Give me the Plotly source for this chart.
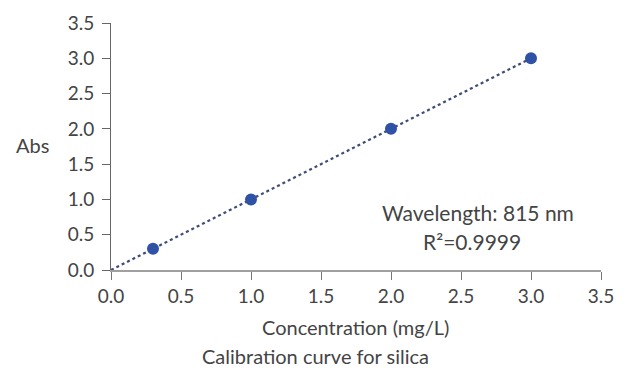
import plotly.graph_objects as go

# Calibration standards for silica
concentration = [0.3, 1.0, 2.0, 3.0]
absorbance = [0.3, 1.0, 2.0, 3.0]

# Fitted line through the origin
fit_x = [0.0, 3.0]
fit_y = [0.0, 3.0]

tick_vals = [0.0, 0.5, 1.0, 1.5, 2.0, 2.5, 3.0, 3.5]
tick_text = ["0.0", "0.5", "1.0", "1.5", "2.0", "2.5", "3.0", "3.5"]

FONT = "Lato"
TEXT = "#444444"
L, R, T, B = 111, 25, 23, 102
W, H = 626, 372

fig = go.Figure()
fig.add_trace(go.Scatter(
    x=fit_x, y=fit_y, mode="lines",
    line=dict(color="#3d4c78", width=2.2, dash="dot"),
    hoverinfo="skip", showlegend=False,
))
fig.add_trace(go.Scatter(
    x=concentration, y=absorbance, mode="markers",
    marker=dict(color="#2f52a6", size=12),
    showlegend=False,
))


def px_ann(text, px, py, size=20):
    """Place a label by page pixel position (centre)."""
    return dict(
        text=text, showarrow=False, xref="paper", yref="paper",
        x=(px - L) / (W - L - R), y=(H - B - py) / (H - T - B),
        xanchor="center", yanchor="middle",
        font=dict(family=FONT, size=size, color=TEXT),
    )


fig.update_layout(
    width=W, height=H,
    margin=dict(l=L, r=R, t=T, b=B),
    paper_bgcolor="white", plot_bgcolor="white",
    font=dict(family=FONT, size=19, color=TEXT),
    xaxis=dict(
        range=[0, 3.5], tickvals=tick_vals, ticktext=tick_text,
        showgrid=False, zeroline=False,
        showline=True, linecolor="#a0a0a0", linewidth=2,
        ticks="outside", ticklen=8, tickcolor="#777777", tickwidth=1,
        tickfont=dict(family=FONT, size=19, color=TEXT),
    ),
    yaxis=dict(
        range=[0, 3.5], tickvals=tick_vals, ticktext=tick_text,
        showgrid=False, zeroline=False,
        showline=True, linecolor="#666666", linewidth=1,
        ticks="outside", ticklen=8, tickcolor="#666666", tickwidth=1,
        ticklabelstandoff=4,
        tickfont=dict(family=FONT, size=19, color=TEXT),
    ),
    annotations=[
        px_ann("Wavelength: 815 nm", 478, 212, 21),
        px_ann("R²=0.9999", 472, 241, 21),
        px_ann("Abs", 32, 145),
        px_ann("Concentration (mg/L)", 355, 327),
        px_ann("Calibration curve for silica", 315, 356),
    ],
)

fig.write_html("out.html")
